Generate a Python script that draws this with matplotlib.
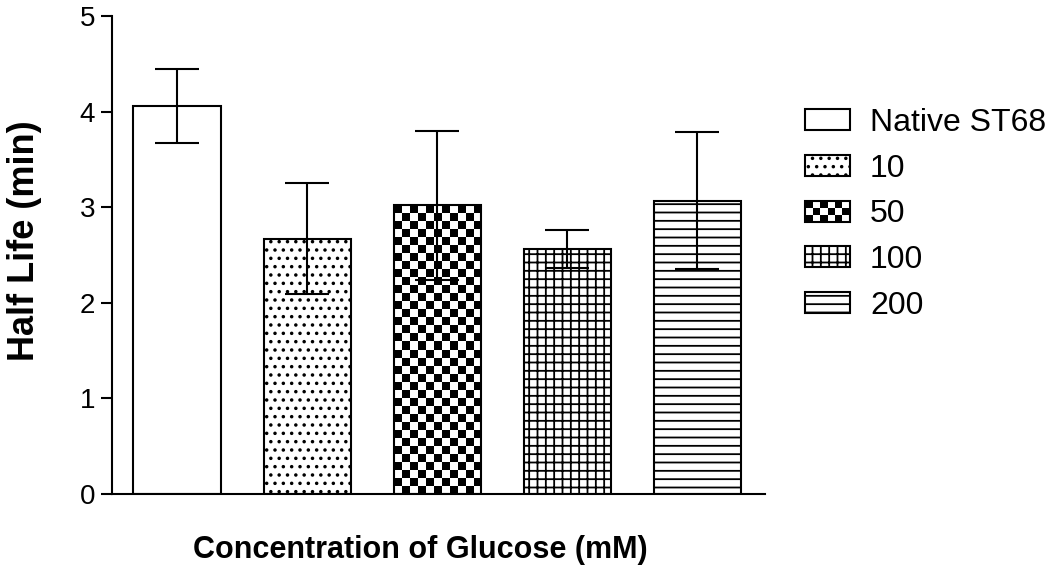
import numpy as np
import matplotlib
matplotlib.use("Agg")
from matplotlib import pyplot as plt
from matplotlib.patches import Rectangle
from matplotlib.legend_handler import HandlerBase

plt.rcParams['font.family'] = ['Liberation Sans', 'DejaVu Sans']
plt.rcParams['hatch.linewidth'] = 1.3

labels = ["Native ST68", "10", "50", "100", "200"]
half_life = [4.06, 2.67, 3.02, 2.56, 3.07]
errors = [0.39, 0.58, 0.78, 0.20, 0.72]
hatches = [None, "..", "checker", "++", "--"]


class HandlerChecker(HandlerBase):
    # legend glyph for the checkerboard fill
    def create_artists(self, legend, orig_handle, xdescent, ydescent,
                       width, height, fontsize, trans):
        nx, ny = 6, 3
        cw, ch = width / nx, height / ny
        arts = []
        for i in range(nx):
            for j in range(ny):
                if (i + j) % 2 == 0:
                    arts.append(Rectangle((-xdescent + i * cw, -ydescent + j * ch), cw, ch,
                                          facecolor="black", edgecolor="none", transform=trans))
        arts.append(Rectangle((-xdescent, -ydescent), width, height, facecolor="none",
                              edgecolor="black", lw=1.5, transform=trans))
        return arts


def checker_fill(ax, bar, cell_px=8):
    # fill a bar with a checkerboard image clipped to the bar
    x0, y0 = bar.get_x(), bar.get_y()
    w, h = bar.get_width(), bar.get_height()
    p0 = ax.transData.transform((x0, y0))
    p1 = ax.transData.transform((x0 + w, y0 + h))
    nx = max(1, int(round((p1[0] - p0[0]) / cell_px)))
    ny = max(1, int(round((p1[1] - p0[1]) / cell_px)))
    board = np.indices((ny, nx)).sum(axis=0) % 2
    im = ax.imshow(board, cmap="gray_r", interpolation="nearest", aspect="auto",
                   extent=(x0, x0 + w, y0, y0 + h), origin="lower", zorder=1.5)
    im.set_clip_path(bar)


fig = plt.figure(figsize=(10.5, 5.75), dpi=100)
ax = fig.add_axes([0.1067, 0.1409, 0.6219, 0.8311])

x = np.arange(len(labels))
bars = ax.bar(x, half_life, width=0.67, facecolor="white", edgecolor="black",
              linewidth=1.5, zorder=2)
ax.set_xlim(-0.5, 4.52)
ax.set_ylim(0, 5)

for b, h in zip(bars, hatches):
    if h is None:
        continue
    if h == "checker":
        b.set_facecolor("none")
        checker_fill(ax, b)
    else:
        b.set_hatch(h)
for lab, b in zip(labels, bars):
    b.set_label(lab)

ax.errorbar(x, half_life, yerr=errors, fmt="none", ecolor="black", elinewidth=1.5,
            capsize=16, capthick=1.5, zorder=3)

for s in ["top", "right"]:
    ax.spines[s].set_visible(False)
for s in ["left", "bottom"]:
    ax.spines[s].set_linewidth(1.5)

ax.set_xticks([])
ax.set_yticks([0, 1, 2, 3, 4, 5])
ax.tick_params(axis="y", labelsize=20, width=1.5, length=8, pad=4)

ax.set_ylabel("Half Life (min)", fontsize=26, fontweight="bold")
ax.yaxis.set_label_coords(-0.107, 0.531)
ax.set_xlabel("Concentration of Glucose (mM)", fontsize=22, fontweight="bold")
ax.xaxis.set_label_coords(0.472, -0.086)

fig.legend(handles=list(bars), labels=labels, loc="upper left",
           bbox_to_anchor=(0.767, 0.812), frameon=False, fontsize=23,
           handlelength=1.39, handleheight=0.63, handletextpad=0.63,
           labelspacing=0.49, borderpad=0, borderaxespad=0,
           handler_map={bars[2]: HandlerChecker()})

fig.savefig("out.png", dpi=100)
